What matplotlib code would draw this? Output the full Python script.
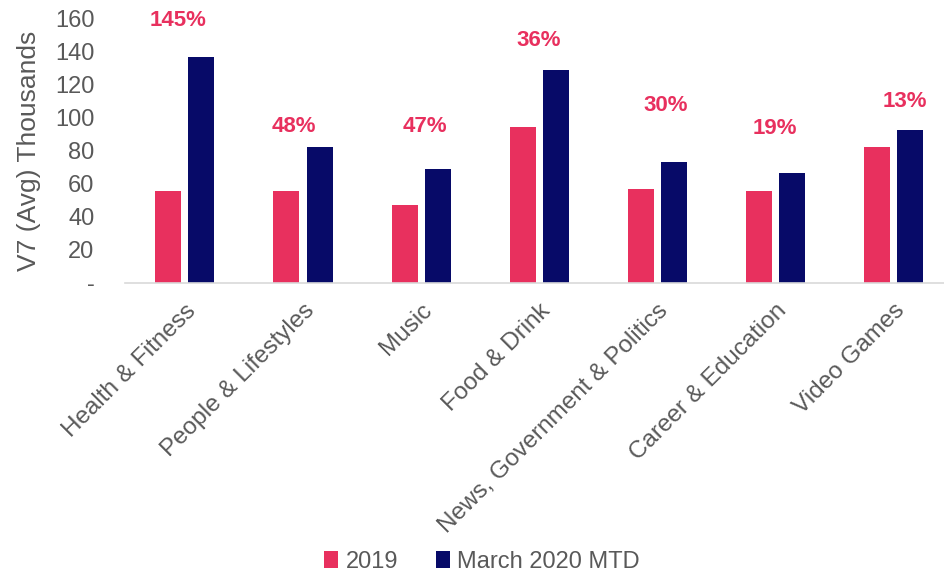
import numpy as np
import matplotlib.pyplot as plt

plt.rcParams['font.family'] = ['Liberation Sans', 'DejaVu Sans']

categories = ['Health & Fitness', 'People & Lifestyles', 'Music', 'Food & Drink',
              'News, Government & Politics', 'Career & Education', 'Video Games']
v2019 = [55.6, 55.4, 47.0, 94.4, 56.6, 55.8, 82.1]
v2020 = [136.5, 82.0, 69.0, 128.4, 73.3, 66.5, 92.6]
growth = ['145%', '48%', '47%', '36%', '30%', '19%', '13%']
# where the growth labels sit (value axis) and their shift from the group centre
label_y = [158.8, 94.2, 94.2, 146.7, 106.9, 93.0, 109.3]
label_dx = [-0.06, -0.08, 0.03, 0.0, 0.07, 0.0, 0.1]

pink = '#E8305E'
navy = '#070A68'
grey = '#595959'

fig = plt.figure(figsize=(9.44, 5.76), dpi=100)
ax = fig.add_axes([0.1324, 0.5087, 0.8676, 0.46])

x = np.arange(len(categories))
ax.bar(x - 0.14, v2019, width=0.22, color=pink, label='2019')
ax.bar(x + 0.14, v2020, width=0.22, color=navy, label='March 2020 MTD')

for i, txt in enumerate(growth):
    ax.text(x[i] + label_dx[i], label_y[i], txt, color=pink, fontsize=16,
            fontweight='bold', ha='center', va='center')

ax.set_xlim(-0.508, 6.43)
ax.set_ylim(0, 160)
ax.set_yticks(np.arange(0, 161, 20))
ax.set_yticklabels(['-'] + [str(v) for v in range(20, 161, 20)])
ax.set_xticks(x)
ax.set_xticklabels(categories, rotation=45, ha='right', rotation_mode='anchor')

ax.tick_params(axis='y', length=0, pad=22, labelsize=17, labelcolor=grey)
ax.tick_params(axis='x', length=0, pad=12, labelsize=17.5, labelcolor=grey)
for s in ['top', 'right', 'left']:
    ax.spines[s].set_visible(False)
ax.spines['bottom'].set_color('#D9D9D9')
ax.spines['bottom'].set_linewidth(1.2)

ax.set_ylabel('V7 (Avg) Thousands', fontsize=19, color=grey)
ax.yaxis.set_label_coords(-0.103, 0.5)

fig.legend(loc='center', bbox_to_anchor=(482 / 944, 1 - 562 / 576), ncol=2,
           frameon=False, fontsize=17, labelcolor=grey, handlelength=0.6,
           handleheight=0.7, handletextpad=0.3, columnspacing=1.6)

fig.savefig('out.png', dpi=100)
